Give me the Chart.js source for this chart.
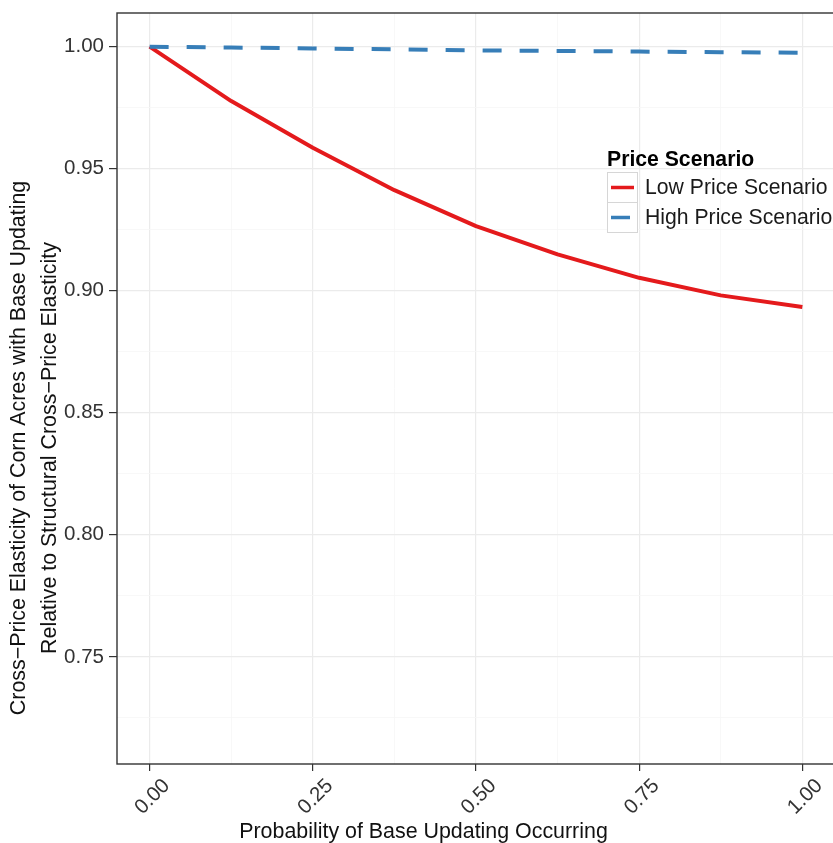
<!DOCTYPE html>
<html>
<head>
<meta charset="utf-8">
<script src="https://cdn.jsdelivr.net/npm/chart.js@4/dist/chart.umd.min.js"></script>
<style>
  html, body { margin: 0; padding: 0; background: #ffffff; overflow: hidden; }
  #wrap { width: 833px; height: 843px; overflow: hidden; position: relative; }
  canvas { display: block; }
</style>
</head>
<body>
<div id="wrap"><canvas id="c" width="855" height="850"></canvas></div>
<script>
// ---- data ----
const probability = [0, 0.125, 0.25, 0.375, 0.5, 0.625, 0.75, 0.875, 1.0];
const lowPriceScenario  = [1.0, 0.9777, 0.9586, 0.9412, 0.9265, 0.9149, 0.9053, 0.8981, 0.8933];
const highPriceScenario = [1.0, 0.99965, 0.9993, 0.9989, 0.9985, 0.99825, 0.998, 0.99775, 0.9975];
const seriesNames = ["Low Price Scenario", "High Price Scenario"];
const legendTitle = "Price Scenario";
const xMajorTicks = [0, 0.25, 0.5, 0.75, 1.0];
const xMinorTicks = [0.125, 0.375, 0.625, 0.875];
const yMajorTicks = [0.75, 0.80, 0.85, 0.90, 0.95, 1.00];
const yMinorTicks = [0.725, 0.775, 0.825, 0.875, 0.925, 0.975];
const xTitle = "Probability of Base Updating Occurring";
const yTitleLines = ["Cross\u2212Price Elasticity of Corn Acres with Base Updating",
                     "Relative to Structural Cross\u2212Price Elasticity"];

const RED = '#E41A1C', BLUE = '#377EB8';
const FONT = '"Liberation Sans", Arial, Helvetica, sans-serif';

function isIn(arr, v) { return arr.some(a => Math.abs(a - v) < 1e-9); }
function pts(xs, ys) { return xs.map((x, i) => ({ x: x, y: ys[i] })); }

const panelPlugin = {
  id: 'panel',
  beforeDatasetsDraw(chart) {
    const a = chart.chartArea, ctx = chart.ctx;
    ctx.save();
    ctx.strokeStyle = '#333333';
    ctx.lineWidth = 1.4;
    ctx.strokeRect(a.left, a.top, a.right - a.left, a.bottom - a.top);
    ctx.restore();
  },
  afterDraw(chart) {
    const ctx = chart.ctx;
    ctx.save();
    // axis titles
    ctx.fillStyle = '#111111';
    ctx.font = '21.4px ' + FONT;
    ctx.textAlign = 'center';
    ctx.textBaseline = 'alphabetic';
    ctx.fillText(xTitle, 423.5, 838);
    ctx.save();
    ctx.translate(0, 448);
    ctx.rotate(-Math.PI / 2);
    ctx.textBaseline = 'middle';
    ctx.fillText(yTitleLines[0], 0, 19);
    ctx.fillText(yTitleLines[1], 0, 50);
    ctx.restore();

    // legend
    const lx = 607, top = 172, key = 30;
    ctx.textAlign = 'left';
    ctx.textBaseline = 'alphabetic';
    ctx.font = 'bold 21.2px ' + FONT;
    ctx.fillStyle = '#000000';
    ctx.fillText(legendTitle, lx, 165.5);
    const colors = [RED, BLUE];
    const dashes = [[], [19, 18]];
    seriesNames.forEach((name, i) => {
      const y0 = top + i * key;
      ctx.fillStyle = '#ffffff';
      ctx.fillRect(lx, y0, key, key);
      ctx.strokeStyle = '#d6d6d6';
      ctx.lineWidth = 1;
      ctx.setLineDash([]);
      ctx.strokeRect(lx + 0.5, y0 + 0.5, key, key);
      ctx.strokeStyle = colors[i];
      ctx.lineWidth = 3.5;
      ctx.lineCap = 'butt';
      ctx.setLineDash(dashes[i]);
      ctx.beginPath();
      ctx.moveTo(lx + 4, y0 + key / 2 + 0.5);
      ctx.lineTo(lx + 27, y0 + key / 2 + 0.5);
      ctx.stroke();
      ctx.setLineDash([]);
      ctx.fillStyle = '#1a1a1a';
      ctx.font = '21.2px ' + FONT;
      ctx.textBaseline = 'middle';
      ctx.fillText(name, 645, y0 + key / 2 + 1);
    });
    ctx.restore();
  }
};

new Chart(document.getElementById('c'), {
  type: 'line',
  data: {
    datasets: [
      { label: seriesNames[0], data: pts(probability, lowPriceScenario),
        borderColor: RED, borderWidth: 4, pointRadius: 0, tension: 0,
        borderJoinStyle: 'round', fill: false, order: 1 },
      { label: seriesNames[1], data: pts(probability, highPriceScenario),
        borderColor: BLUE, borderWidth: 4, pointRadius: 0, tension: 0,
        borderDash: [19, 18], borderCapStyle: 'butt', fill: false, order: 0 }
    ]
  },
  options: {
    responsive: false,
    animation: false,
    devicePixelRatio: 1,
    layout: { padding: { left: 0, top: 13, right: 20, bottom: 0 } },
    plugins: { legend: { display: false }, tooltip: { enabled: false } },
    scales: {
      x: {
        type: 'linear', min: -0.05, max: 1.05,
        afterBuildTicks: (s) => { s.ticks = xMajorTicks.concat(xMinorTicks).sort((a, b) => a - b).map(v => ({ value: v })); },
        afterFit: (s) => { s.height = 86; s.paddingLeft = 0; s.paddingRight = 0; },
        border: { display: false },
        grid: {
          color: (c) => (c.tick && isIn(xMajorTicks, c.tick.value)) ? '#ebebeb' : '#f6f6f6',
          lineWidth: (c) => (c.tick && isIn(xMajorTicks, c.tick.value)) ? 1.2 : 0.8,
          tickColor: (c) => (c.tick && isIn(xMajorTicks, c.tick.value)) ? '#333333' : 'rgba(0,0,0,0)',
          tickLength: 7, drawTicks: true
        },
        ticks: {
          autoSkip: false, minRotation: 45, maxRotation: 45,
          labelOffset: 17, padding: 3,
          color: '#333333', font: { family: FONT, size: 20.5 },
          callback: (v) => isIn(xMajorTicks, v) ? Number(v).toFixed(2) : ''
        }
      },
      y: {
        type: 'linear', min: 0.7061, max: 1.0138,
        afterBuildTicks: (s) => { s.ticks = yMajorTicks.concat(yMinorTicks).sort((a, b) => a - b).map(v => ({ value: v })); },
        afterFit: (s) => { s.width = 117; s.paddingTop = 0; s.paddingBottom = 0; },
        border: { display: false },
        grid: {
          color: (c) => (c.tick && isIn(yMajorTicks, c.tick.value)) ? '#ebebeb' : '#f6f6f6',
          lineWidth: (c) => (c.tick && isIn(yMajorTicks, c.tick.value)) ? 1.2 : 0.8,
          tickColor: (c) => (c.tick && isIn(yMajorTicks, c.tick.value)) ? '#333333' : 'rgba(0,0,0,0)',
          tickLength: 8, drawTicks: true
        },
        ticks: {
          autoSkip: false, padding: 5,
          color: '#333333', font: { family: FONT, size: 20.5 },
          callback: (v) => isIn(yMajorTicks, v) ? Number(v).toFixed(2) : ''
        }
      }
    }
  },
  plugins: [panelPlugin]
});
</script>
</body>
</html>
